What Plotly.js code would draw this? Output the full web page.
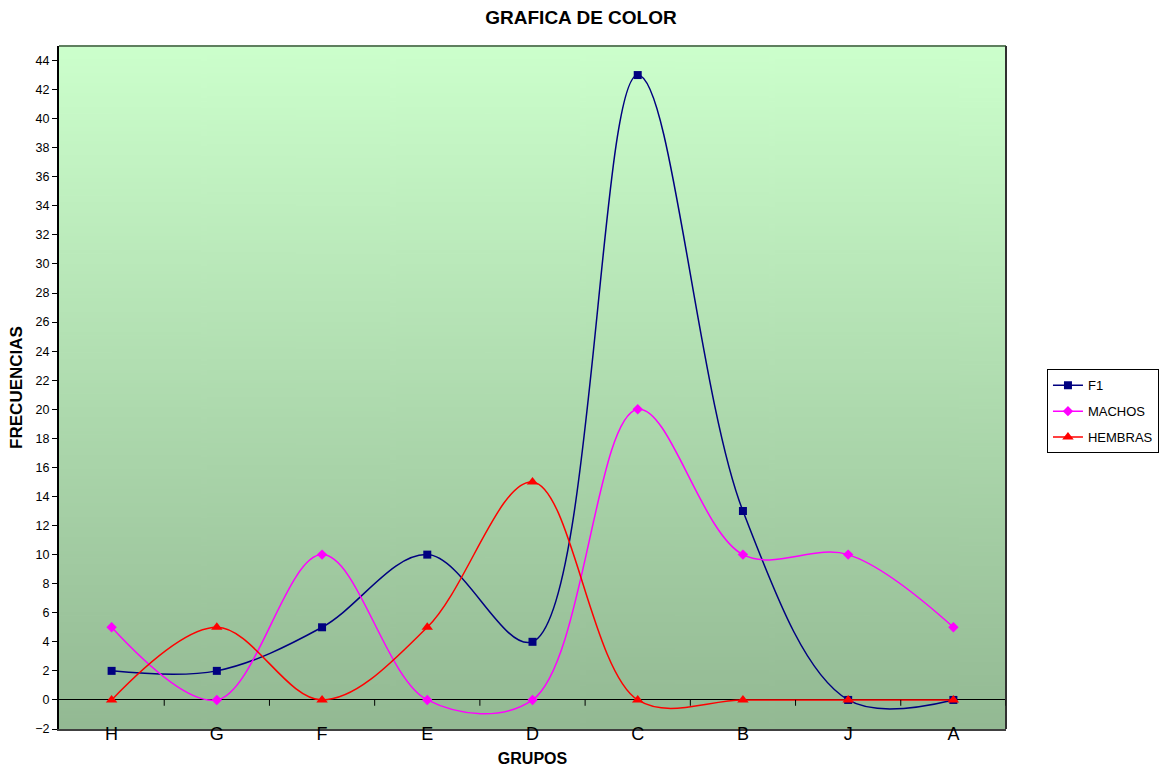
<!DOCTYPE html>
<html><head><meta charset="utf-8">
<script src="https://cdn.plot.ly/plotly-3.0.1.min.js"></script>
<style>html,body{margin:0;padding:0;background:#fff}#chart{width:1162px;height:771px}</style>
</head><body><div id="chart"></div>
<script>
var categories = ["H","G","F","E","D","C","B","J","A"];
var f1 = [2,2,5,10,4,43,13,0,0];
var machos = [5,0,10,0,0,20,10,10,5];
var hembras = [0,5,0,5,15,0,0,0,0];
var yTicks = [-2,0,2,4,6,8,10,12,14,16,18,20,22,24,26,28,30,32,34,36,38,40,42,44];

var cv = document.createElement('canvas');
cv.width = 10; cv.height = 400;
var ctx = cv.getContext('2d');
var g = ctx.createLinearGradient(0,0,0,400);
g.addColorStop(0,'#CCFFCC');
g.addColorStop(1,'#93B993');
ctx.fillStyle = g; ctx.fillRect(0,0,10,400);
var bg = cv.toDataURL();

var font = {family:'Arial, Liberation Sans, sans-serif', color:'#000'};
function tr(name, y, color, sym, size){
  return {x:categories, y:y, name:name, legendgroup:name, type:'scatter', mode:'lines+markers',
    line:{color:color, width:1.5, shape:'spline', smoothing:1},
    marker:{color:color, symbol:sym, size:size}};
}
var data = [
  tr('F1', f1, '#000080', 'square', 8),
  tr('MACHOS', machos, '#FF00FF', 'diamond', 8),
  tr('HEMBRAS', hembras, '#FF0000', 'triangle-up', 10)
];
var layout = {
  width:1162, height:771,
  margin:{l:59, r:156, t:46, b:42},
  paper_bgcolor:'#fff', plot_bgcolor:'rgba(0,0,0,0)',
  font:font,
  title:{text:'<b>GRAFICA DE COLOR</b>', x:0.5, xref:'container', y:0.977, yanchor:'middle', font:{family:font.family, size:19, color:'#000'}},
  images:[{source:bg, xref:'paper', yref:'paper', x:0, y:1, sizex:1, sizey:1, sizing:'stretch', layer:'below', xanchor:'left', yanchor:'top'}],
  xaxis:{type:'category', range:[-0.5,8.5], tickfont:{size:18, family:font.family}, ticks:'', showgrid:false, zeroline:false,
    ticklabelstandoff:-13,
    showline:true, linecolor:'#404040', linewidth:2, mirror:false,
    title:{text:'<b>GRUPOS</b>', font:{size:16, family:font.family}, standoff:10}},
  yaxis:{range:[-2,45], tickvals:yTicks, tickfont:{size:12.5, family:font.family}, ticks:'outside', ticklen:5, tickcolor:'#000',
    showgrid:false, zeroline:true, zerolinecolor:'#000', zerolinewidth:1,
    showline:true, linecolor:'#000', linewidth:2,
    title:{text:'<b>FRECUENCIAS</b>', font:{size:17, family:font.family}, standoff:8}},
  shapes:[
    {type:'line', xref:'paper', yref:'paper', x0:0, x1:1, y0:1, y1:1, line:{color:'#5F7F5F', width:2}},
    {type:'line', xref:'paper', yref:'paper', x0:1, x1:1, y0:0, y1:1, line:{color:'#303030', width:2}}
  ],
  legend:{xref:'container', yref:'container', x:0.901, xanchor:'left', y:0.521, yanchor:'top', bordercolor:'#000', borderwidth:1, bgcolor:'#fff',
    font:{size:13, family:font.family}, tracegroupgap:6, itemwidth:30},
  showlegend:true
};
for (var i=0;i<categories.length;i++){
  layout.shapes.push({type:'line', xref:'x', yref:'y', x0:i+0.5, x1:i+0.5, y0:0, y1:-0.4, line:{color:'#000', width:1}});
}
Plotly.newPlot('chart', data, layout, {displayModeBar:false});
</script></body></html>
